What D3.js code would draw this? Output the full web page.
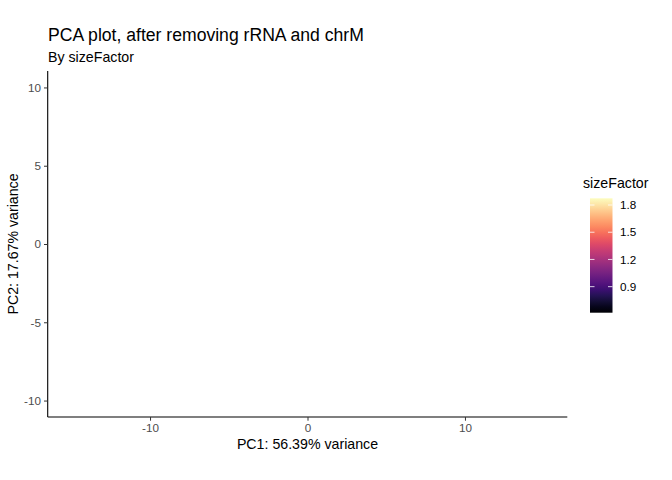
<!DOCTYPE html>
<html>
<head>
<meta charset="utf-8">
<script src="https://cdn.jsdelivr.net/npm/d3@7"></script>
<style>
  body { margin: 0; background: #fff; }
  text { font-family: "Liberation Sans", Arial, sans-serif; }
</style>
</head>
<body>
<svg id="chart" width="672" height="480"></svg>
<script>
// the reference shows no samples in the panel, so these stay empty
const pc1 = [];
const pc2 = [];
const sizeFactor = [];

const xTicks = [-10, 0, 10];
const yTicks = [-10, -5, 0, 5, 10];
const legendTicks = [0.9, 1.2, 1.5, 1.8];
const sfRange = [0.613, 1.874];

const svg = d3.select("#chart");

// panel geometry
const x = d3.scaleLinear().domain([-16.5, 16.5]).range([47.7, 567.3]);
const y = d3.scaleLinear().domain([-11.05, 11.05]).range([417, 71]);
const color = d3.scaleSequential(d3.interpolateMagma).domain(sfRange);

// points (none visible)
svg.append("g")
  .selectAll("circle")
  .data(d3.range(pc1.length))
  .join("circle")
  .attr("cx", i => x(pc1[i]))
  .attr("cy", i => y(pc2[i]))
  .attr("r", 2)
  .attr("fill", i => color(sizeFactor[i]));

// x axis
const xAxis = svg.append("g")
  .attr("transform", "translate(0,417)")
  .call(d3.axisBottom(x).tickValues(xTicks).tickSize(3.7).tickPadding(3).tickFormat(d3.format("d")));
xAxis.select(".domain").attr("stroke", "#000").attr("stroke-width", 1.1)
  .attr("d", `M${x.range()[0]},0H${x.range()[1]}`);
xAxis.selectAll(".tick line").attr("stroke", "#333");
xAxis.selectAll(".tick text").attr("fill", "#4d4d4d").style("font-size", "11.7px")
  .text(d => d < 0 ? "-" + Math.abs(d) : d);

// y axis
const yAxis = svg.append("g")
  .attr("transform", "translate(47.7,0)")
  .call(d3.axisLeft(y).tickValues(yTicks).tickSize(3.7).tickPadding(3).tickFormat(d3.format("d")));
yAxis.select(".domain").attr("stroke", "#000").attr("stroke-width", 1.1)
  .attr("d", `M0,${y.range()[0]}V${y.range()[1]}`);
yAxis.selectAll(".tick line").attr("stroke", "#333");
yAxis.selectAll(".tick text").attr("fill", "#4d4d4d").style("font-size", "11.7px")
  .text(d => d < 0 ? "-" + Math.abs(d) : d);

svg.selectAll(".domain").attr("fill", "none");

// titles
svg.append("text").attr("x", 48).attr("y", 41)
  .style("font-size", "17.6px").attr("fill", "#000")
  .text("PCA plot, after removing rRNA and chrM");
svg.append("text").attr("x", 48).attr("y", 62)
  .style("font-size", "14.2px").attr("fill", "#000")
  .text("By sizeFactor");

svg.append("text").attr("x", 307.5).attr("y", 449)
  .attr("text-anchor", "middle").style("font-size", "14.2px")
  .text("PC1: 56.39% variance");
svg.append("text")
  .attr("transform", "translate(18,244) rotate(-90)")
  .attr("text-anchor", "middle").style("font-size", "14.2px")
  .text("PC2: 17.67% variance");

// colour bar legend
const bar = { x: 590, w: 22.5, top: 198.3, bottom: 312.7 };
const ly = d3.scaleLinear().domain(sfRange).range([bar.bottom, bar.top]);

const grad = svg.append("defs").append("linearGradient")
  .attr("id", "sfgrad").attr("x1", 0).attr("y1", 1).attr("x2", 0).attr("y2", 0);
grad.selectAll("stop")
  .data(d3.range(0, 1.0001, 0.05))
  .join("stop")
  .attr("offset", t => t)
  .attr("stop-color", t => color(sfRange[0] + t * (sfRange[1] - sfRange[0])));

svg.append("text").attr("x", 583).attr("y", 188)
  .style("font-size", "14.2px").text("sizeFactor");

svg.append("rect")
  .attr("x", bar.x).attr("y", bar.top)
  .attr("width", bar.w).attr("height", bar.bottom - bar.top)
  .attr("fill", "url(#sfgrad)");

const lt = svg.append("g").selectAll("g").data(legendTicks).join("g");
lt.append("line")
  .attr("x1", bar.x).attr("x2", bar.x + 4.5)
  .attr("y1", d => ly(d)).attr("y2", d => ly(d))
  .attr("stroke", "#fff").attr("stroke-width", 0.8);
lt.append("line")
  .attr("x1", bar.x + bar.w - 4.5).attr("x2", bar.x + bar.w)
  .attr("y1", d => ly(d)).attr("y2", d => ly(d))
  .attr("stroke", "#fff").attr("stroke-width", 0.8);
lt.append("text")
  .attr("x", 620).attr("y", d => ly(d)).attr("dy", "0.35em")
  .style("font-size", "11.7px").attr("fill", "#000")
  .text(d => d3.format(".1f")(d));
</script>
</body>
</html>
